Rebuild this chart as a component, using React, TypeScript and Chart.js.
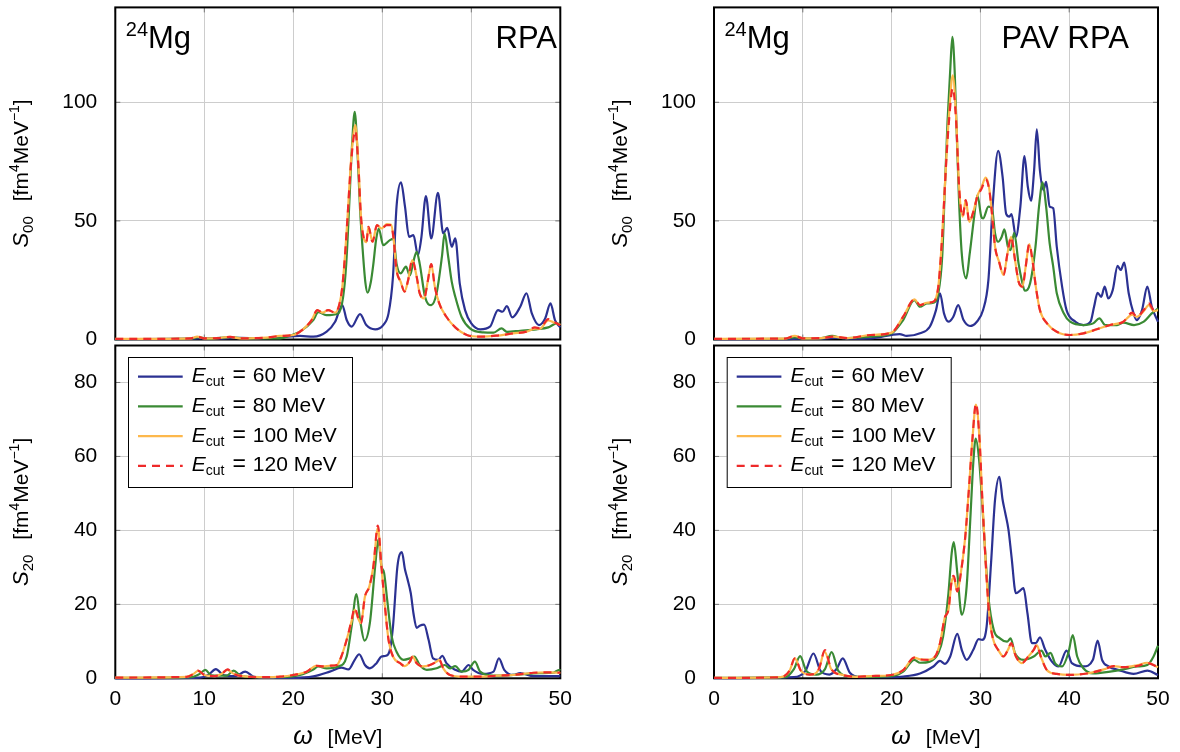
import React, { useEffect, useRef } from "react";
import { Chart, registerables } from "chart.js";

Chart.register(...registerables);

const FONT = '"Liberation Sans", Arial, Helvetica, sans-serif';

// ---------- data: [omega (MeV), strength (fm^4 MeV^-1)] ----------
// RPA, S00
const rpaS00E60 = [[0,0.2],[8,0.3],[11,0.6],[12,0.4],[14,0.7],[16,0.4],[18.5,0.9],[20.75,1.5],[22.25,1.2],[23.75,3.3],[24.7,7.5],[25.5,14.5],[26.0,8.2],[26.55,5.4],[27.5,10.7],[28.2,6.1],[29.2,4.3],[30.1,6.1],[30.7,11],[31.2,26.5],[31.6,56],[32.1,66.2],[32.55,56],[33.0,43.3],[33.5,44],[34.0,35.6],[34.4,43.3],[34.9,60.5],[35.5,42.6],[36.25,61.8],[36.85,44.7],[37.3,47.1],[37.8,39.1],[38.2,42.6],[38.7,23.7],[39.3,12.4],[40.0,6.8],[41.0,4.3],[42.1,5.4],[43.0,12.4],[43.5,11.7],[44.0,14.1],[44.6,9.3],[45.5,13.8],[46.2,19.5],[46.8,11],[47.6,6.1],[48.3,8.9],[48.9,15.2],[49.4,8.2],[50,5.1]];
const rpaS00E80 = [[0,0.2],[8.5,0.4],[9.3,1.0],[10.5,0.3],[13.0,1.0],[14.5,0.4],[17,0.5],[18.5,0.5],[19.6,1.6],[20.75,3.3],[22.25,8.2],[22.8,11.5],[23.7,10.3],[25.05,11],[25.6,18],[25.95,32],[26.3,58],[26.6,82],[26.9,96],[27.2,80],[27.5,55],[27.85,35],[28.1,24],[28.35,19.7],[28.7,24],[29.0,32],[29.3,42],[29.6,46.8],[30.1,39.8],[30.85,41.9],[31.25,42.4],[31.6,32],[32.06,27.9],[32.66,30.7],[33.1,27],[33.5,33],[33.86,37],[34.2,32],[34.8,18],[35.5,14.5],[36.1,19.5],[36.7,34.9],[37.0,44.7],[37.4,35],[37.8,24.4],[38.2,18],[38.9,9.6],[39.85,4.7],[41.35,3],[42.5,2.9],[43.4,4.7],[44.0,3.2],[45.5,3.7],[47.3,4.3],[48.65,5.1],[49.6,6.8],[50,6.5]];
const rpaS00E100 = [[0,0.3],[5,0.3],[8.5,0.5],[9.2,1.2],[10,0.5],[11.5,0.6],[12.9,1.1],[14,0.5],[17,0.8],[18.5,1.5],[20,1.9],[21.1,4.3],[22.06,8.2],[22.7,12.4],[23.3,11.3],[23.9,12.4],[24.7,11.3],[25.2,15.2],[25.5,22],[25.8,35],[26.1,52],[26.5,76],[26.97,90.4],[27.3,75],[27.6,52],[27.9,43],[28.2,41],[28.45,47.5],[28.9,41.2],[29.4,48.2],[29.9,46.8],[30.5,48.6],[31.0,48.4],[31.25,43],[31.6,29.3],[32.06,24.4],[32.5,20.2],[32.9,25],[33.37,33.5],[33.86,26.5],[34.2,19.5],[34.7,17.3],[35.1,24.4],[35.5,31.8],[35.9,22.3],[36.4,15.2],[37.2,9.6],[38.2,5.1],[39.5,1.9],[41,1.2],[42.8,1.6],[44.7,2.6],[46.2,3.3],[47.15,4.6],[47.7,4.5],[48.65,8.0],[49.2,7.3],[50,6.1]];
const rpaS00E120 = [[0,0.3],[5,0.3],[8.5,0.5],[9.2,1.2],[10,0.5],[11.5,0.6],[12.9,1.1],[14,0.5],[17,0.8],[18.5,1.5],[20,1.9],[21.1,4.3],[22.06,8.2],[22.7,12.4],[23.3,11.3],[23.9,12.4],[24.7,11.3],[25.2,15.2],[25.5,22],[25.8,35],[26.1,52],[26.5,75],[26.97,88],[27.3,74],[27.6,52],[27.9,43],[28.2,41],[28.45,47.5],[28.9,41.2],[29.4,48.2],[29.9,46.8],[30.5,48.2],[31.0,48.2],[31.25,43],[31.6,29.3],[32.06,24.4],[32.5,20.2],[32.9,25],[33.37,33.5],[33.86,26.5],[34.2,19.5],[34.7,17.3],[35.1,24.4],[35.5,31.8],[35.9,22.3],[36.4,15.2],[37.2,9.6],[38.2,5.1],[39.5,1.9],[41,1.2],[42.8,1.6],[44.7,2.6],[46.2,3.3],[47.15,5.1],[47.7,4.7],[48.65,8.6],[49.2,7.5],[50,6.1]];

// RPA, S20
const rpaS20E60 = [[0,0],[9.5,0.2],[10.5,1.0],[11.3,2.5],[12.2,0.8],[13.5,0.6],[14.6,1.8],[15.5,0.5],[17,0.1],[20,0.1],[22.25,0.5],[24.1,1.8],[25.4,2.9],[26.2,2.4],[26.9,5.0],[27.4,6.5],[28.05,3.6],[28.6,2.7],[29.35,4.1],[29.9,5.9],[30.4,6.1],[30.8,7.2],[31.2,14],[31.7,30.3],[32.2,34.1],[32.55,29.4],[32.8,27.1],[33.2,23],[33.5,17.6],[33.86,13.6],[34.2,14.2],[34.7,14.5],[35.2,10.4],[35.7,5.4],[36.3,5],[36.74,6.1],[37.2,4.1],[38.2,2.3],[38.9,1.8],[39.7,3.6],[40.2,2.3],[41.35,1.2],[42.5,1.8],[43.1,5.4],[43.7,2.3],[44.7,0.9],[45.5,1.4],[47,0.6],[50,0.6]];
const rpaS20E80 = [[0,0.1],[8.5,0.3],[9.5,1.2],[10.1,2.3],[10.8,0.8],[12.5,0.7],[13.3,2.1],[14.0,0.8],[15.5,0.3],[18.5,0.3],[20.75,0.9],[22.25,2.4],[22.8,3.2],[23.75,2.7],[25.05,3.2],[26,5.9],[26.55,14],[27.1,22.8],[27.5,15.8],[28,10.2],[28.6,14.9],[29.2,30.3],[29.55,37.5],[29.9,30.3],[30.2,28.5],[30.55,21.2],[31.05,11.3],[31.6,7.2],[32.4,5],[33.1,5.4],[33.6,5.9],[34.2,3.6],[35,2.3],[36.1,2.7],[37.0,3.6],[37.6,2.7],[38.2,3.3],[38.9,1.8],[39.7,2.3],[40.4,4.5],[41,1.8],[42.5,0.7],[44.7,0.9],[47.7,1.4],[49.2,1.5],[49.9,2.3],[50,2.1]];
const rpaS20E100 = [[0,0.2],[8,0.4],[8.8,1.2],[9.3,2.0],[10.0,0.9],[11.2,0.6],[12.0,1.3],[12.6,2.3],[13.3,1.2],[14.5,0.5],[17,0.3],[18.5,0.45],[20,0.9],[21.5,1.8],[22.6,3.4],[23.4,3.2],[24.1,3.4],[24.9,3.6],[25.4,5.9],[26.2,12.2],[26.55,15.5],[26.9,18.5],[27.3,16.1],[27.6,14.9],[28.05,22.1],[28.54,24.8],[29.0,30.3],[29.5,40.6],[29.9,30.3],[30.3,19.4],[30.7,10.4],[31.2,5.9],[32,4.1],[32.5,3.3],[33.1,4.5],[33.4,5.9],[33.86,4.1],[34.6,3.2],[35.35,3.6],[36.1,4.5],[36.4,5.0],[36.85,2.7],[37.6,0.9],[39.1,0.45],[41,0.45],[42.85,0.7],[44.7,0.9],[47,1.5],[48.5,1.6],[50,1.5]];
const rpaS20E120 = [[0,0.2],[8,0.4],[8.8,1.2],[9.3,2.1],[10.0,0.9],[11.2,0.6],[12.0,1.3],[12.6,2.4],[13.3,1.2],[14.5,0.5],[17,0.3],[18.5,0.45],[20,0.9],[21.5,1.8],[22.6,3.4],[23.4,3.2],[24.1,3.4],[24.9,3.6],[25.4,5.9],[26.2,12.2],[26.55,15.8],[26.9,19],[27.3,16.3],[27.6,14.9],[28.05,22.1],[28.54,24.8],[29.0,30.3],[29.5,41.3],[29.9,30.3],[30.3,19.4],[30.7,10.4],[31.2,5.9],[32,4.1],[32.5,3.3],[33.1,4.5],[33.4,5.9],[33.86,4.1],[34.6,3.2],[35.35,3.6],[36.1,4.5],[36.4,5.0],[36.85,2.7],[37.6,0.9],[39.1,0.45],[41,0.45],[42.85,0.7],[44.7,0.9],[47,1.5],[48.5,1.6],[50,1.5]];

// PAV RPA, S00
const pavS00E60 = [[0,0.1],[8,0.2],[10,0.4],[12,0.3],[14,0.8],[15,0.4],[17.6,0.5],[20.9,2.3],[21.7,1.5],[23.2,2.6],[24.3,5.4],[25.0,12.4],[25.45,19.5],[25.9,11],[26.4,7.5],[26.95,9.6],[27.5,14.5],[28.1,8.2],[28.83,5.7],[29.6,7.5],[30.3,12.4],[30.9,25],[31.4,57.4],[32.0,79.5],[32.5,68.6],[32.9,53],[33.27,51.8],[33.5,52.9],[34.0,43.3],[34.5,56],[34.96,77.3],[35.34,64.4],[35.7,58.5],[36.05,71.4],[36.35,88.6],[36.7,71.4],[37.1,63],[37.4,66.5],[37.8,56],[38.2,55.3],[38.6,39.1],[39.2,22.3],[39.7,12.4],[40.7,7.5],[41.6,6.1],[42.4,7.5],[42.8,13.8],[43.2,19.7],[43.6,18],[44.0,22.3],[44.4,17.3],[44.9,20.8],[45.45,31],[45.8,29.3],[46.2,32.4],[46.7,19.5],[47.25,11],[47.6,8.2],[48.2,12.4],[48.8,22.3],[49.3,13.8],[50,7.5]];
const pavS00E80 = [[0,0.2],[8,0.3],[9.1,1.0],[10,0.4],[12,0.5],[13.3,1.5],[14.5,0.6],[17.6,1.2],[20,2.6],[21.3,8.2],[22.56,16.6],[23.2,13.8],[23.95,15.2],[24.7,15.5],[25.26,19.5],[25.7,35],[26.0,64],[26.3,92],[26.6,113.5],[26.84,127.6],[27.1,113.5],[27.35,85],[27.6,58],[27.9,36.3],[28.4,25.8],[28.8,36.3],[29.3,51.8],[29.66,60.9],[30.1,51.8],[30.3,51],[30.9,56],[31.3,55.3],[31.65,44.7],[32.0,41.2],[32.4,43.3],[32.7,46.4],[33.1,39.1],[33.4,37.7],[33.8,45],[34.3,32],[34.66,25],[35.0,20.6],[35.6,23.7],[36.2,39],[36.6,56],[37.0,66.2],[37.4,56],[37.8,40.5],[38.2,30.7],[38.6,19.5],[39.4,11],[40.1,7.5],[41.6,6.1],[42.7,6.8],[43.4,8.9],[44.06,6.1],[45.4,6.1],[46.1,7.1],[47.3,6.1],[48.4,7.5],[49.3,11],[50,13.1]];
const pavS00E100 = [[0,0.3],[8,0.4],[9.1,1.5],[10,0.5],[12,0.6],[13.5,1.2],[15,0.6],[17.6,1.9],[20,2.9],[21.3,9.6],[22.56,16.9],[23.2,14.5],[23.95,15.5],[24.7,15.9],[25.26,22.3],[25.6,38],[25.9,57.4],[26.2,79],[26.47,95],[26.88,111.4],[27.26,94],[27.6,64.4],[28.0,51.8],[28.35,58.8],[28.75,49.6],[29.2,53.8],[29.66,60.5],[30.15,64.5],[30.6,68.2],[31.0,63.5],[31.3,53.2],[31.65,39.1],[32.1,32.8],[32.6,27.2],[33.05,36.3],[33.46,43.3],[33.9,33.5],[34.3,24.4],[34.74,22.3],[35.1,30.7],[35.5,40.2],[35.86,33.5],[36.24,22.3],[36.7,12.4],[37.5,6.8],[38.6,3.3],[40.1,1.9],[41.6,2.6],[43.1,4.3],[44.6,6.1],[46.1,7.5],[47.1,10.5],[47.6,9.6],[48.4,12.0],[48.95,14.5],[49.5,12.0],[50,12.4]];
const pavS00E120 = [[0,0.3],[8,0.4],[9.1,1.5],[10,0.5],[12,0.6],[13.5,1.2],[15,0.6],[17.6,1.9],[20,2.9],[21.3,9.6],[22.56,16.9],[23.2,14.5],[23.95,15.5],[24.7,15.9],[25.26,22.3],[25.6,38],[25.9,57.4],[26.2,78],[26.47,92.5],[26.88,106],[27.26,92.5],[27.6,64.4],[28.0,51.8],[28.35,58.8],[28.75,49.6],[29.2,53.8],[29.66,60.2],[30.15,63.7],[30.6,67.5],[31.0,63],[31.3,53.2],[31.65,39.1],[32.1,32.8],[32.6,27.2],[33.05,36.3],[33.46,43.3],[33.9,33.5],[34.3,24.4],[34.74,22.3],[35.1,30.7],[35.5,40.2],[35.86,33.5],[36.24,22.3],[36.7,12.4],[37.5,6.8],[38.6,3.3],[40.1,1.9],[41.6,2.6],[43.1,4.3],[44.6,6.1],[46.1,7.5],[47.1,11.3],[47.6,9.6],[48.4,12.4],[48.95,15.2],[49.5,12.4],[50,11.7]];

// PAV RPA, S20
const pavS20E60 = [[0,0.05],[9,0.3],[10.3,2.0],[11.2,6.7],[12.0,2.0],[13.0,1.0],[13.8,2.5],[14.5,5.4],[15.3,1.5],[16.5,0.3],[20,0.3],[21.3,0.45],[23.2,1.3],[24.7,3.2],[25.45,4.7],[26.0,3.9],[26.6,5.9],[27.4,12.0],[27.9,7.7],[28.45,5.0],[29.2,7.7],[29.8,10.6],[30.2,10.4],[30.7,14],[31.2,31.2],[31.65,48.3],[32.14,54.5],[32.5,48.3],[32.8,44.7],[33.16,40.2],[33.5,33],[34.0,23],[34.36,23.5],[34.85,24.4],[35.3,17.6],[35.8,9.5],[36.24,9.5],[36.7,11.1],[37.3,7.7],[38.05,4.5],[38.8,3.2],[39.7,7.5],[40.3,4.1],[41.6,3.2],[42.67,5],[43.2,10.2],[43.7,5.0],[44.45,3.2],[45.6,2.2],[47.25,1.2],[48.8,2.1],[50,0.9]];
const pavS20E80 = [[0,0.1],[8,0.3],[9.0,2.5],[9.7,6.0],[10.4,2.0],[11.5,1.0],[12.5,2.5],[13.25,7.1],[14.0,2.0],[15.5,0.4],[17.6,0.4],[20,0.6],[21.3,1.8],[22.56,5.0],[23.2,4.2],[24.3,4.5],[25.26,6.8],[25.8,11.3],[26.4,23],[26.77,33.9],[27.0,36.8],[27.4,28.5],[27.9,17.2],[28.45,24.8],[28.9,44.7],[29.2,58.3],[29.47,64.8],[29.85,59.2],[30.2,47.4],[30.5,35.7],[30.9,22.1],[31.5,13.1],[32.2,10.8],[33.0,9.9],[33.4,10.8],[33.9,6.8],[34.85,5.0],[36.0,5.9],[36.9,7.5],[37.3,5.9],[37.9,6.9],[38.4,4.1],[39.2,3.2],[39.9,6.8],[40.4,11.7],[40.9,5.9],[41.6,2.7],[42.7,1.3],[44.6,1.8],[46.1,2.4],[47.6,3.2],[48.8,3.6],[49.5,5.9],[50,8.8]];
const pavS20E100 = [[0,0.1],[7.5,0.3],[8.5,2.0],[9.1,5.4],[9.8,2.0],[10.8,1.0],[11.8,2.4],[12.45,7.2],[13.2,2.5],[14.5,0.9],[16,0.4],[17.6,0.6],[20,0.9],[21.3,2.2],[22.56,5.6],[23.2,5.1],[24.1,5.0],[24.9,5.9],[25.45,9.5],[26.0,16.5],[26.4,18.5],[26.77,26.2],[27.0,27.2],[27.4,23.5],[27.8,28.5],[28.3,38.4],[28.7,51],[29.1,64.6],[29.5,74],[29.9,64.6],[30.2,49.2],[30.6,31.1],[30.98,17.6],[31.4,10.8],[32.0,7.7],[32.6,5.9],[33.1,7.7],[33.46,9.3],[34.0,5.9],[34.66,4.1],[35.4,5.9],[36.0,7.7],[36.35,9.0],[36.8,5.9],[37.5,2.2],[38.6,1.2],[40.1,0.9],[42,1.3],[43.9,2.4],[45,3.3],[46.1,3.0],[47.6,3.5],[48.8,4.2],[50,3.0]];
const pavS20E120 = [[0,0.1],[7.5,0.3],[8.5,2.0],[9.1,5.4],[9.8,2.0],[10.8,1.0],[11.8,2.5],[12.5,7.6],[13.2,2.5],[14.5,0.9],[16,0.4],[17.6,0.6],[20,0.9],[21.3,2.2],[22.56,5.6],[23.2,5.1],[24.1,5.0],[24.9,5.9],[25.45,9.5],[26.0,16.5],[26.4,18.5],[26.77,26.6],[27.0,27.7],[27.4,23.5],[27.8,28.5],[28.3,38.4],[28.7,51],[29.1,64.6],[29.5,74.3],[29.9,64.6],[30.2,49.2],[30.6,31.1],[30.98,17.6],[31.4,10.8],[32.0,7.7],[32.6,5.9],[33.1,7.7],[33.46,9.5],[34.0,5.9],[34.66,4.1],[35.4,5.9],[36.0,7.7],[36.35,9.0],[36.8,5.9],[37.5,2.2],[38.6,1.2],[40.1,0.9],[42,1.3],[43.9,2.4],[45,3.3],[46.1,3.0],[47.6,3.3],[48.8,4.1],[50,3.0]];

const ecutValues = ["60", "80", "100", "120"];
const xTickValues = [0, 10, 20, 30, 40, 50];
const yTicksS00 = [0, 50, 100];
const yTicksS20 = [0, 20, 40, 60, 80];

const seriesColors = ["#2b3192", "#3a8a34", "#fdb84c", "#ee2a2a"];

type Seg = { t: string; font: string; dy?: number; gap?: number };

function segsWidth(ctx: CanvasRenderingContext2D, segs: Seg[]) {
  let w = 0;
  for (const s of segs) {
    ctx.font = s.font;
    w += (s.gap || 0) + ctx.measureText(s.t).width;
  }
  return w;
}

function drawSegs(ctx: CanvasRenderingContext2D, segs: Seg[], x: number, y: number, align: string) {
  const w = segsWidth(ctx, segs);
  let cx = align === "left" ? x : align === "center" ? x - w / 2 : x - w;
  ctx.textAlign = "left";
  ctx.textBaseline = "alphabetic";
  for (const s of segs) {
    ctx.font = s.font;
    cx += s.gap || 0;
    ctx.fillText(s.t, cx, y + (s.dy || 0));
    cx += ctx.measureText(s.t).width;
  }
}

type Panel = {
  id: string;
  left: number;
  right: number;
  top: number;
  bottom: number;
  yMax: number;
  yTicks: number[];
  xLabels: boolean;
  sub: string;
  series: number[][][];
  tag?: string;
  tagRight?: number;
  legend: boolean;
};

const panels: Panel[] = [
  { id: "tl", left: 115.3, right: 560.3, top: 7.4, bottom: 339.5, yMax: 140, yTicks: yTicksS00, xLabels: false, sub: "00", series: [rpaS00E60, rpaS00E80, rpaS00E100, rpaS00E120], tag: "RPA", tagRight: 557, legend: false },
  { id: "bl", left: 115.3, right: 560.3, top: 345.5, bottom: 678.3, yMax: 90, yTicks: yTicksS20, xLabels: true, sub: "20", series: [rpaS20E60, rpaS20E80, rpaS20E100, rpaS20E120], legend: true },
  { id: "tr", left: 714, right: 1158, top: 7.4, bottom: 339.5, yMax: 140, yTicks: yTicksS00, xLabels: false, sub: "00", series: [pavS00E60, pavS00E80, pavS00E100, pavS00E120], tag: "PAV RPA", tagRight: 1129, legend: false },
  { id: "br", left: 714, right: 1158, top: 345.5, bottom: 678.3, yMax: 90, yTicks: yTicksS20, xLabels: true, sub: "20", series: [pavS20E60, pavS20E80, pavS20E100, pavS20E120], legend: true },
];

const W = 1180;
const H = 752;

function makePlugin(p: Panel) {
  return {
    id: "deco_" + p.id,
    beforeDatasetsDraw(chart: any) {
      const ctx = chart.ctx as CanvasRenderingContext2D;
      const a = chart.chartArea;
      const xs = chart.scales.x;
      const ys = chart.scales.y;
      ctx.save();
      ctx.strokeStyle = "#777";
      ctx.lineWidth = 1;
      ctx.beginPath();
      for (const v of xTickValues) {
        const px = xs.getPixelForValue(v);
        ctx.moveTo(px, a.bottom);
        ctx.lineTo(px, a.bottom - 5);
        ctx.moveTo(px, a.top);
        ctx.lineTo(px, a.top + 5);
      }
      for (const v of p.yTicks) {
        const py = ys.getPixelForValue(v);
        ctx.moveTo(a.left, py);
        ctx.lineTo(a.left + 5, py);
        ctx.moveTo(a.right, py);
        ctx.lineTo(a.right - 5, py);
      }
      ctx.stroke();
      ctx.strokeStyle = "#000";
      ctx.lineWidth = 2;
      ctx.strokeRect(a.left, a.top, a.right - a.left, a.bottom - a.top);
      ctx.restore();
    },
    afterDatasetsDraw(chart: any) {
      if (!p.legend) return;
      const ctx = chart.ctx as CanvasRenderingContext2D;
      const a = chart.chartArea;
      const bx = a.left + 12.7;
      const by = a.top + 11.5;
      const bw = 224;
      const bh = 130;
      ctx.save();
      ctx.fillStyle = "#fff";
      ctx.fillRect(bx, by, bw, bh);
      ctx.strokeStyle = "#000";
      ctx.lineWidth = 1;
      ctx.strokeRect(bx + 0.5, by + 0.5, bw, bh);
      for (let i = 0; i < 4; i++) {
        const base = by + 25.3 + i * 29.7;
        const ly = base - 5.6;
        ctx.strokeStyle = seriesColors[i];
        ctx.lineWidth = 2.2;
        ctx.setLineDash(i === 3 ? [8, 6] : []);
        ctx.beginPath();
        ctx.moveTo(bx + 10, ly);
        ctx.lineTo(bx + 54.7, ly);
        ctx.stroke();
        ctx.setLineDash([]);
        ctx.fillStyle = "#000";
        drawSegs(
          ctx,
          [
            { t: "E", font: `italic 21px ${FONT}` },
            { t: "cut", font: `14px ${FONT}`, dy: 4 },
            { t: "=", font: `23px ${FONT}`, gap: 8 },
            { t: ecutValues[i] + " MeV", font: `21px ${FONT}`, gap: 7 },
          ],
          bx + 63.7,
          base,
          "left"
        );
      }
      ctx.restore();
    },
    afterDraw(chart: any) {
      const ctx = chart.ctx as CanvasRenderingContext2D;
      const a = chart.chartArea;
      ctx.save();
      ctx.fillStyle = "#000";
      ctx.save();
      ctx.translate(a.left - 87.3, (a.top + a.bottom) / 2);
      ctx.rotate(-Math.PI / 2);
      drawSegs(
        ctx,
        [
          { t: "S", font: `italic 22px ${FONT}` },
          { t: p.sub, font: `15px ${FONT}`, dy: 5 },
          { t: "[fm", font: `21px ${FONT}`, gap: 15 },
          { t: "4", font: `14px ${FONT}`, dy: -9 },
          { t: "MeV", font: `21px ${FONT}` },
          { t: "\u22121", font: `14px ${FONT}`, dy: -9 },
          { t: "]", font: `21px ${FONT}` },
        ],
        0,
        0,
        "center"
      );
      ctx.restore();
      if (p.xLabels) {
        drawSegs(
          ctx,
          [
            { t: "\u03c9", font: `italic 25px ${FONT}` },
            { t: "[MeV]", font: `21px ${FONT}`, gap: 15 },
          ],
          (a.left + a.right) / 2,
          744,
          "center"
        );
      }
      if (p.tag) {
        drawSegs(
          ctx,
          [
            { t: "24", font: `20px ${FONT}`, dy: -12 },
            { t: "Mg", font: `31px ${FONT}` },
          ],
          a.left + 10.5,
          48,
          "left"
        );
        drawSegs(ctx, [{ t: p.tag, font: `31px ${FONT}` }], p.tagRight as number, 48, "right");
      }
      ctx.restore();
    },
  };
}

function makeConfig(p: Panel): any {
  const yW = p.left < 300 ? p.left : 100;
  const padLeft = p.left - yW;
  const xH = p.xLabels ? 30 : 10;
  return {
    type: "line",
    data: {
      datasets: p.series.map((pts, i) => ({
        label: `E_cut = ${ecutValues[i]} MeV`,
        data: pts.map(([x, y]) => ({ x, y })),
        borderColor: seriesColors[i],
        backgroundColor: seriesColors[i],
        borderWidth: 2.2,
        borderDash: i === 3 ? [8, 6] : [],
        pointRadius: 0,
        pointHoverRadius: 0,
        cubicInterpolationMode: "monotone",
        fill: false,
        order: 4 - i,
        clip: 3,
      })),
    },
    options: {
      responsive: false,
      animation: false,
      devicePixelRatio: 1,
      events: [],
      layout: {
        autoPadding: false,
        padding: {
          left: padLeft,
          right: W - p.right,
          top: p.top,
          bottom: H - p.bottom - xH,
        },
      },
      plugins: {
        legend: { display: false },
        tooltip: { enabled: false },
        title: { display: false },
      },
      scales: {
        x: {
          type: "linear",
          min: 0,
          max: 50,
          afterBuildTicks: (s: any) => {
            s.ticks = xTickValues.map((v) => ({ value: v }));
          },
          afterFit: (s: any) => {
            s.height = xH;
            s.paddingLeft = 0;
            s.paddingRight = 0;
            s.paddingTop = 0;
            s.paddingBottom = 0;
          },
          grid: { color: "#cdcdcd", lineWidth: 1, drawTicks: false },
          border: { display: false },
          ticks: {
            display: p.xLabels,
            color: "#000",
            font: { family: FONT, size: 21 },
            padding: 8,
            maxRotation: 0,
            autoSkip: false,
          },
        },
        y: {
          type: "linear",
          min: 0,
          max: p.yMax,
          afterBuildTicks: (s: any) => {
            s.ticks = p.yTicks.map((v) => ({ value: v }));
          },
          afterFit: (s: any) => {
            s.width = yW;
            s.paddingLeft = 0;
            s.paddingRight = 0;
            s.paddingTop = 0;
            s.paddingBottom = 0;
          },
          grid: { color: "#cdcdcd", lineWidth: 1, drawTicks: false },
          border: { display: false },
          ticks: {
            color: "#000",
            font: { family: FONT, size: 21 },
            padding: 18,
            autoSkip: false,
          },
        },
      },
    },
    plugins: [makePlugin(p)],
  };
}

export default function App() {
  const refs = useRef<(HTMLCanvasElement | null)[]>([]);

  useEffect(() => {
    const charts = panels.map((p, i) => {
      const c = refs.current[i] as HTMLCanvasElement;
      return new Chart(c, makeConfig(p));
    });
    return () => {
      charts.forEach((ch) => ch.destroy());
    };
  }, []);

  return (
    <div style={{ position: "fixed", left: 0, top: 0, width: W, height: H, background: "#fff", overflow: "hidden" }}>
      {panels.map((p, i) => (
        <canvas
          key={p.id}
          ref={(el) => {
            refs.current[i] = el;
          }}
          width={W}
          height={H}
          style={{ position: "absolute", left: 0, top: 0, width: W, height: H }}
        />
      ))}
    </div>
  );
}
